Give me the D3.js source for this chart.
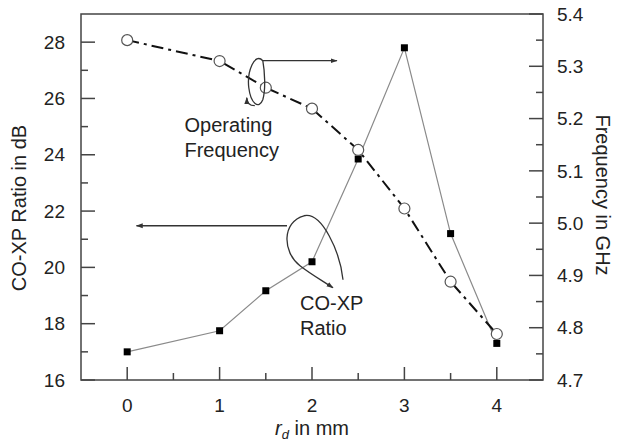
<!DOCTYPE html>
<html>
<head>
<meta charset="utf-8">
<script src="https://cdnjs.cloudflare.com/ajax/libs/d3/7.8.5/d3.min.js"></script>
<style>
  body { margin: 0; background: #fff; }
  svg { display: block; font-family: "Liberation Sans", Arial, sans-serif; }
</style>
</head>
<body>
<svg id="chart" width="619" height="446"></svg>
<script>
// values
const rd = [0, 1, 1.5, 2, 2.5, 3, 3.5, 4]
const coxp = [17.0, 17.75, 19.17, 20.2, 23.85, 27.8, 21.2, 17.3]
const freq = [5.350, 5.310, 5.259, 5.219, 5.140, 5.028, 4.888, 4.788]
const xTicks = [0, 1, 2, 3, 4]
const yLeftTicks = [16, 18, 20, 22, 24, 26, 28]
const yRightTicks = [4.7, 4.8, 4.9, 5.0, 5.1, 5.2, 5.3, 5.4]

const width = 619, height = 446
const margin = { top: 14, right: 76, bottom: 66, left: 81 }
const iw = width - margin.left - margin.right
const ih = height - margin.top - margin.bottom

const svg = d3.select("#chart")

svg.append("defs").append("marker")
    .attr("id", "head")
    .attr("viewBox", "0 0 10 10")
    .attr("refX", 9).attr("refY", 5)
    .attr("markerWidth", 7).attr("markerHeight", 7)
    .attr("markerUnits", "userSpaceOnUse")
    .attr("orient", "auto")
  .append("path")
    .attr("d", "M0,1.5L10,5L0,8.5Z")
    .attr("fill", "#333")

const g = svg.append("g").attr("transform", `translate(${margin.left},${margin.top})`)

const x = d3.scaleLinear().domain([-0.5, 4.5]).range([0, iw])
const yL = d3.scaleLinear().domain([16, 29]).range([ih, 0])
const yR = d3.scaleLinear().domain([4.7, 5.4]).range([ih, 0])

const axisColor = "#444"

// frame
g.append("rect")
    .attr("width", iw).attr("height", ih)
    .attr("fill", "none").attr("stroke", axisColor).attr("stroke-width", 1.5)

// inward ticks: major and minor
let tick = (sel, data, fn) => sel.selectAll(null).data(data).enter().append("line").call(fn)

tick(g, xTicks, s => s.attr("x1", d => x(d)).attr("x2", d => x(d)).attr("y1", ih).attr("y2", ih - 13))
tick(g, [0.5, 1.5, 2.5, 3.5], s => s.attr("x1", d => x(d)).attr("x2", d => x(d)).attr("y1", ih).attr("y2", ih - 7))
tick(g, yLeftTicks, s => s.attr("x1", 0).attr("x2", 14).attr("y1", d => yL(d)).attr("y2", d => yL(d)))
tick(g, [17, 19, 21, 23, 25, 27], s => s.attr("x1", 0).attr("x2", 7).attr("y1", d => yL(d)).attr("y2", d => yL(d)))
tick(g, yRightTicks, s => s.attr("x1", iw).attr("x2", iw - 14).attr("y1", d => yR(d)).attr("y2", d => yR(d)))
tick(g, [4.75, 4.85, 4.95, 5.05, 5.15, 5.25, 5.35], s => s.attr("x1", iw).attr("x2", iw - 7).attr("y1", d => yR(d)).attr("y2", d => yR(d)))
g.selectAll("line").attr("stroke", axisColor).attr("stroke-width", 1.5)

// tick labels
const fs = 19, ts = 20
g.append("g").selectAll("text").data(xTicks).enter().append("text")
    .attr("x", d => x(d)).attr("y", ih + 32)
    .attr("text-anchor", "middle").attr("font-size", fs).attr("fill", "#222")
    .text(d => d)
g.append("g").selectAll("text").data(yLeftTicks).enter().append("text")
    .attr("x", -16).attr("y", d => yL(d)).attr("dy", "0.35em")
    .attr("text-anchor", "end").attr("font-size", fs).attr("fill", "#222")
    .text(d => d)
g.append("g").selectAll("text").data(yRightTicks).enter().append("text")
    .attr("x", iw + 14).attr("y", d => yR(d)).attr("dy", "0.35em")
    .attr("text-anchor", "start").attr("font-size", fs).attr("fill", "#222")
    .text(d => d.toFixed(1))

// axis titles
const xt = svg.append("text")
    .attr("x", margin.left + x(2)).attr("y", 435)
    .attr("text-anchor", "middle").attr("font-size", ts).attr("fill", "#222")
xt.append("tspan").attr("font-style", "italic").text("r")
xt.append("tspan").attr("font-style", "italic").attr("font-size", 13).attr("dy", 4).text("d")
xt.append("tspan").attr("dy", -4).text(" in mm")

svg.append("text")
    .attr("transform", `translate(26,208) rotate(-90)`)
    .attr("text-anchor", "middle").attr("font-size", ts).attr("fill", "#222")
    .text("CO-XP Ratio in dB")
svg.append("text")
    .attr("transform", `translate(596,195) rotate(90)`)
    .attr("text-anchor", "middle").attr("font-size", ts).attr("fill", "#222")
    .text("Frequency in GHz")

// CO-XP series
const lineL = d3.line().x((d, i) => x(rd[i])).y(d => yL(d))
g.append("path").datum(coxp)
    .attr("d", lineL).attr("fill", "none").attr("stroke", "#8a8a8a").attr("stroke-width", 1.2)

// frequency series
const lineR = d3.line().x((d, i) => x(rd[i])).y(d => yR(d))
g.append("path").datum(freq)
    .attr("d", lineR).attr("fill", "none").attr("stroke", "#111").attr("stroke-width", 2)
    .attr("stroke-dasharray", "12,5,3,5")

g.append("g").selectAll("rect").data(coxp).enter().append("rect")
    .attr("x", (d, i) => x(rd[i]) - 3.5).attr("y", d => yL(d) - 3.5)
    .attr("width", 7).attr("height", 7).attr("fill", "#000")

g.append("g").selectAll("circle").data(freq).enter().append("circle")
    .attr("cx", (d, i) => x(rd[i])).attr("cy", d => yR(d)).attr("r", 5.5)
    .attr("fill", "#fff").attr("stroke", "#555").attr("stroke-width", 1.2)

// annotations
const ann = g.append("g").attr("fill", "none").attr("stroke", "#333").attr("stroke-width", 1.3)

// loop around the frequency point at 1.5 mm, arrow to the right axis
const fx = x(1.5) - 9, fy = yR(5.259) - 6
ann.append("path")
    .attr("d", `M${fx + 6},${fy - 21} C${fx - 2},${fy - 30} ${fx - 10},${fy - 10} ${fx - 8},${fy + 6}
                C${fx - 6},${fy + 22} ${fx + 2},${fy + 28} ${fx + 6},${fy + 18}
                C${fx + 9},${fy + 8} ${fx + 8},${fy - 10} ${fx + 6},${fy - 21}`)
ann.append("path")
    .attr("d", `M${fx - 2},${fy + 24} C${fx - 7},${fy + 24} ${fx - 10},${fy + 21} ${fx - 10},${fy + 16}`)
    .attr("marker-end", "url(#head)")
ann.append("line")
    .attr("x1", fx + 6).attr("y1", fy - 21).attr("x2", x(2.27)).attr("y2", fy - 21)
    .attr("marker-end", "url(#head)")

// loop around the CO-XP point at 2 mm, arrow to the left axis
const cx0 = x(2), cy0 = yL(20.2)
ann.append("path")
    .attr("d", `M${cx0 + 31},${cy0 + 18} C${cx0 + 28},${cy0 - 10} ${cx0 + 10},${cy0 - 50} ${cx0 - 8},${cy0 - 46}
                C${cx0 - 30},${cy0 - 40} ${cx0 - 30},${cy0 - 10} ${cx0 - 12},${cy0 + 4}
                C${cx0 - 2},${cy0 + 12} ${cx0 + 12},${cy0 + 20} ${cx0 + 21},${cy0 + 26}`)
    .attr("marker-end", "url(#head)")
ann.append("line")
    .attr("x1", cx0 - 25).attr("y1", cy0 - 36).attr("x2", x(0.1)).attr("y2", cy0 - 36)
    .attr("marker-end", "url(#head)")

const labelY1 = yR(5.174), labelY2 = yL(18.5)
g.append("text").attr("x", x(0.62)).attr("y", labelY1).attr("font-size", ts).attr("fill", "#222").text("Operating")
g.append("text").attr("x", x(0.62)).attr("y", labelY1 + 25).attr("font-size", ts).attr("fill", "#222").text("Frequency")
g.append("text").attr("x", x(1.87)).attr("y", labelY2).attr("font-size", ts).attr("fill", "#222").text("CO-XP")
g.append("text").attr("x", x(1.87)).attr("y", labelY2 + 25).attr("font-size", ts).attr("fill", "#222").text("Ratio")
</script>
</body>
</html>
